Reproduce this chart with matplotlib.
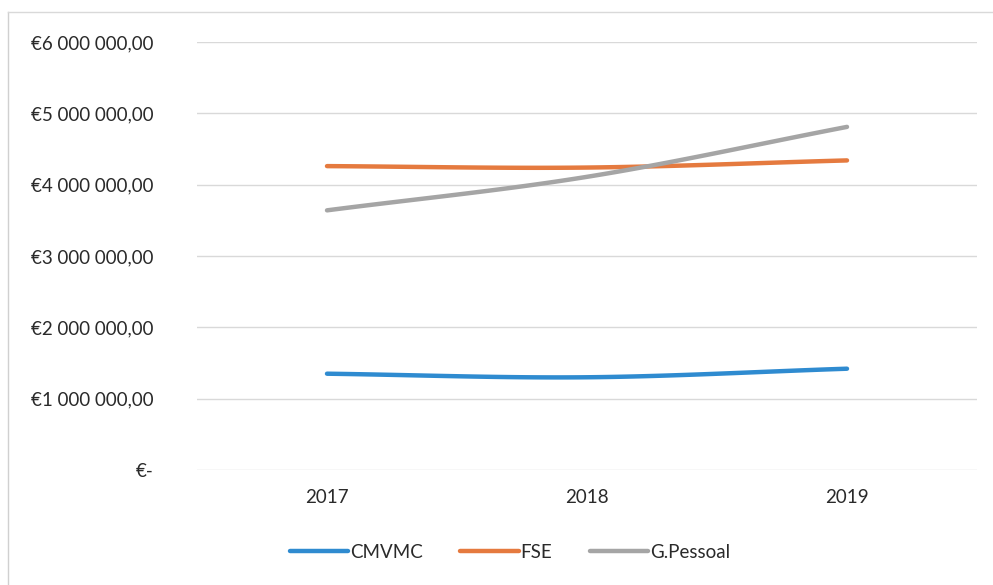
import matplotlib
matplotlib.use("Agg")
import matplotlib.pyplot as plt
import numpy as np
from matplotlib.lines import Line2D

years = ["2017", "2018", "2019"]
cmvmc = [1350000, 1300000, 1420000]
fse = [4260000, 4240000, 4340000]
gpessoal = [3640000, 4110000, 4810000]
series_names = ["CMVMC", "FSE", "G.Pessoal"]
colors = ["#2F8BD0", "#E57A3F", "#A5A5A5"]
yticks = [0, 1000000, 2000000, 3000000, 4000000, 5000000, 6000000]

plt.rcParams['font.family'] = ['Lato', 'DejaVu Sans']


def smooth(xs, ys, n=40):
    # Catmull-Rom style rendering between data points (visual smoothing only)
    xs = np.asarray(xs, float); ys = np.asarray(ys, float)
    px = np.concatenate([[2 * xs[0] - xs[1]], xs, [2 * xs[-1] - xs[-2]]])
    py = np.concatenate([[2 * ys[0] - ys[1]], ys, [2 * ys[-1] - ys[-2]]])
    ox, oy = [], []
    for i in range(1, len(px) - 2):
        t = np.linspace(0, 1, n)
        p0, p1, p2, p3 = py[i - 1], py[i], py[i + 1], py[i + 2]
        yy = 0.5 * ((2 * p1) + (-p0 + p2) * t + (2 * p0 - 5 * p1 + 4 * p2 - p3) * t ** 2
                    + (-p0 + 3 * p1 - 3 * p2 + p3) * t ** 3)
        xx = px[i] + (px[i + 1] - px[i]) * t
        ox.extend(xx); oy.extend(yy)
    return ox, oy


fig = plt.figure(figsize=(9.93, 5.85), dpi=100)
ax = fig.add_axes([197 / 993, 1 - 470 / 585, 780 / 993, 428 / 585])

x = np.arange(len(years))
for vals, name, c in zip([cmvmc, fse, gpessoal], series_names, colors):
    sx, sy = smooth(x, vals)
    ax.plot(sx, sy, color=c, lw=3.2, solid_capstyle='round', label=name)

ax.set_xlim(-0.5, len(years) - 0.5)
ax.set_ylim(0, 6000000)
ax.set_xticks(x)
ax.set_xticklabels(years)
ax.set_yticks(yticks)


def fmt(v):
    if v == 0:
        return "€-"
    s = f"{int(v):,}".replace(",", " ")
    return "€" + s + ",00"


ax.set_yticklabels([fmt(v) for v in yticks])
ax.grid(axis='y', color='#D9D9D9', lw=1)
ax.set_axisbelow(True)
for s in ax.spines.values():
    s.set_visible(False)
ax.tick_params(axis='both', length=0, labelsize=13.5, colors='#2A2A2A')
ax.tick_params(axis='y', pad=31)
ax.tick_params(axis='x', pad=14)

leg = fig.legend(loc='center', bbox_to_anchor=(510 / 993, 1 - 552 / 585), ncol=3,
                 frameon=False, fontsize=13.5, handlelength=3.1, handletextpad=0.1,
                 columnspacing=2.0)
for t in leg.get_texts():
    t.set_color('#2A2A2A')

# figure border (top and left)
fig.add_artist(Line2D([8 / 993, 8 / 993], [0, 1 - 12 / 585], transform=fig.transFigure,
                      color='#D0D0D0', lw=1))
fig.add_artist(Line2D([8 / 993, 1], [1 - 12 / 585, 1 - 12 / 585], transform=fig.transFigure,
                      color='#D9D9D9', lw=1))

fig.savefig("out.png", dpi=100)
